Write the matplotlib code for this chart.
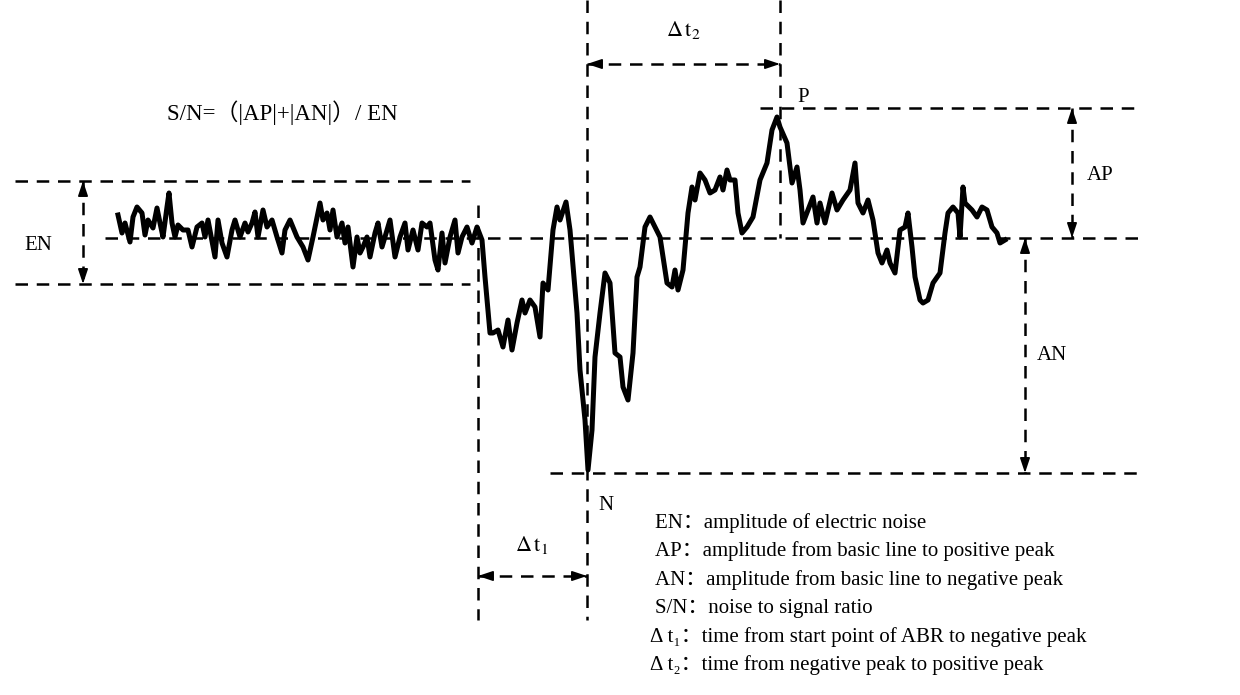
import numpy as np
import matplotlib
matplotlib.use("Agg")
import matplotlib.pyplot as plt

# --- signal (pixel units, y grows downward) ---
sig_x = [118, 122, 125, 130, 133, 137, 142, 145, 148, 153, 157, 160, 163, 167, 169, 172, 175, 178,
         183, 188, 192, 197, 202, 205, 208, 215, 218, 222, 227, 232, 235, 240, 245, 248, 252, 255,
         258, 263, 267, 272, 277, 282, 285,
         290, 297, 303, 308, 313, 318, 320, 323, 327, 330, 333, 337, 342, 345, 348, 353, 357, 360,
         363, 367, 370, 375, 378, 382, 387, 390, 395, 400, 405, 408, 413, 418, 422, 427, 430, 435,
         438, 442, 445, 450, 455, 458, 462, 467, 472, 477, 482,
         485, 490, 493, 498, 503, 508, 512, 517, 522, 525, 530, 535, 540, 543, 548, 553, 557, 560,
         566, 570, 577, 580, 585, 588, 592, 595,
         600, 605, 610, 615, 620, 623, 628, 633, 637, 640, 645, 650, 655, 660, 667, 672, 675, 678,
         683, 688, 692, 695, 700, 705, 710, 715, 720, 723, 727, 730, 735, 738, 742, 747, 753, 760,
         767, 772, 777,
         780, 787, 792, 797, 800, 803, 808, 813, 817, 820, 825, 832, 837, 843, 850, 855, 858, 863,
         868, 873, 878, 882, 887, 890, 895, 900, 905, 908, 912, 915, 920, 923, 928, 933, 940, 945,
         948, 953, 958, 960, 963, 965, 972, 977, 982, 987, 992, 997, 1000, 1005]
sig_y = [215, 233, 223, 242, 217, 207, 213, 235, 220, 228, 208, 223, 237, 207, 193, 223, 237, 225,
         230, 230, 247, 227, 223, 237, 220, 257, 220, 243, 257, 230, 220, 237, 223, 232, 223, 212,
         237, 210, 227, 220, 237, 253, 230,
         220, 237, 247, 260, 237, 213, 203, 220, 213, 230, 210, 237, 223, 243, 227, 267, 237, 253,
         247, 237, 257, 233, 223, 247, 230, 220, 257, 237, 223, 250, 230, 250, 223, 227, 223, 260,
         270, 233, 263, 237, 220, 253, 237, 227, 243, 227, 240,
         277, 333, 333, 330, 347, 320, 350, 323, 300, 313, 300, 307, 337, 283, 290, 230, 207, 220,
         202, 230, 313, 370, 420, 470, 430, 357,
         313, 273, 283, 353, 357, 387, 400, 353, 277, 267, 227, 217, 227, 237, 283, 287, 270, 290,
         270, 213, 187, 200, 173, 180, 193, 190, 177, 190, 170, 180, 180, 213, 233, 227, 217, 180,
         163, 130, 117,
         127, 143, 183, 167, 190, 223, 210, 197, 223, 203, 223, 193, 210, 200, 190, 163, 203, 213,
         200, 220, 253, 263, 250, 263, 273, 230, 227, 213, 247, 277, 300, 303, 300, 283, 273, 233,
         213, 207, 213, 237, 187, 203, 210, 217, 207, 210, 227, 233, 243, 240]

# --- reference levels ---
base_y = 238
en_top, en_bot = 181, 284
ap_y = 108
an_y = 473
x_start, x_neg, x_pos = 478, 587, 780

legend_lines = [
    "EN：amplitude of electric noise",
    "AP：amplitude from basic line to positive peak",
    "AN：amplitude from basic line to negative peak",
    "S/N：noise to signal ratio",
    "Δ t₁：time from start point of ABR to negative peak",
    "Δ t₂：time from negative peak to positive peak",
]

plt.rcParams['font.family'] = ['Liberation Serif', 'Noto Sans CJK SC']
plt.rcParams['mathtext.fontset'] = 'stix'

fig = plt.figure(figsize=(12.4, 6.95), dpi=100)
ax = fig.add_axes([0, 0, 1, 1])
ax.set_xlim(0, 1240)
ax.set_ylim(695, 0)
ax.axis('off')

dash = dict(color='black', lw=1.8, linestyle=(0, (5, 3.5)))


def dline(x0, y0, x1, y1):
    ax.plot([x0, x1], [y0, y1], **dash)


def darrow(x0, y0, x1, y1):
    dline(x0, y0, x1, y1)
    v = np.array([x1 - x0, y1 - y0], float)
    v = v / np.hypot(*v) * 12
    head = dict(arrowstyle='-|>,head_length=0.9,head_width=0.3', color='black', lw=1.2,
                shrinkA=0, shrinkB=0)
    ax.annotate("", xy=(x1, y1), xytext=(x1 - v[0], y1 - v[1]), arrowprops=head)
    ax.annotate("", xy=(x0, y0), xytext=(x0 + v[0], y0 + v[1]), arrowprops=head)


# horizontal reference lines
dline(15, en_top, 470, en_top)
dline(15, en_bot, 470, en_bot)
dline(105, base_y, 1140, base_y)
dline(760, ap_y, 1140, ap_y)
dline(550, an_y, 1140, an_y)

# vertical reference lines
dline(x_start, 205, x_start, 620)
dline(x_neg, 0, x_neg, 620)
dline(x_pos, 0, x_pos, base_y)

# arrows
darrow(83, en_top, 83, en_bot)
darrow(1072, ap_y, 1072, base_y)
darrow(1025, base_y, 1025, an_y)
darrow(x_start, 576, x_neg, 576)
darrow(x_neg, 64, x_pos, 64)

# signal
ax.plot(sig_x, sig_y, color='black', lw=3.6, solid_joinstyle='round')

fs = 15
ax.text(38, 245, "EN", fontsize=fs, ha='center', va='center')
ax.text(1100, 175, "AP", fontsize=fs, ha='center', va='center')
ax.text(1052, 355, "AN", fontsize=fs, ha='center', va='center')
ax.text(797, 97, "P", fontsize=fs, ha='left', va='center')
ax.text(598, 506, "N", fontsize=fs, ha='left', va='center')
ax.text(532, 545, r"$\Delta\,\mathrm{t}_1$", fontsize=fs + 1, ha='center', va='center')
ax.text(683, 30, r"$\Delta\,\mathrm{t}_2$", fontsize=fs + 1, ha='center', va='center')
ax.text(167, 113, "S/N=（|AP|+|AN|）/ EN", fontsize=16.5, ha='left', va='center')

for i, s in enumerate(legend_lines):
    ax.text(655 if i < 4 else 650, 523 + i * 28.5, s, fontsize=fs, ha='left', va='center')

fig.savefig("out.png", dpi=100)
